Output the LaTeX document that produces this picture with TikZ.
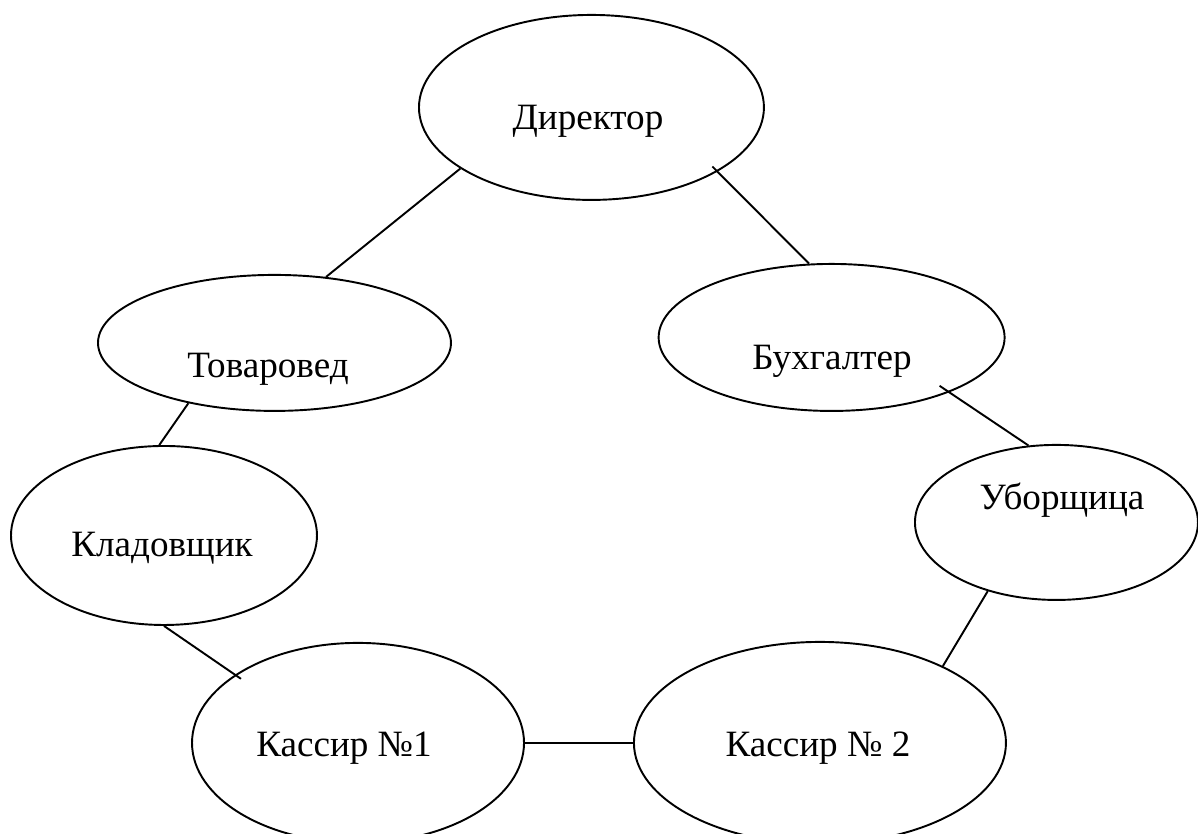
\documentclass[tikz,border=0pt]{standalone}
\usepackage{fontspec}
\setmainfont{Liberation Serif}
\usetikzlibrary{positioning, calc, shapes.geometric}

\begin{document}
\begin{tikzpicture}[
            staff/.style={ellipse, draw, line width=0.75pt, inner sep=0pt},
            role/.style={anchor=base, font=\fontsize{14.5}{17}\selectfont},
            link/.style={line width=0.75pt}
        ]
            \useasboundingbox (0,0) rectangle (16.437,11.442);

            % --- Node Placement ---
            \node[staff, minimum width=4.733cm, minimum height=2.538cm] (dir) at (8.115,9.968) {};
            \node[staff, minimum width=4.843cm, minimum height=1.866cm] (tov) at (3.766,6.737) {};
            \node[staff, minimum width=4.747cm, minimum height=2.017cm] (bux) at (11.410,6.812) {};
            \node[staff, minimum width=4.198cm, minimum height=2.456cm] (klad) at (2.250,4.095) {};
            \node[staff, minimum width=3.883cm, minimum height=2.127cm] (ubor) at (14.495,4.274) {};
            \node[staff, minimum width=4.555cm, minimum height=2.744cm] (kas1) at (4.912,1.249) {};
            \node[staff, minimum width=5.104cm, minimum height=2.771cm] (kas2) at (11.250,1.249) {};

            % --- Labels ---
            \node[role] (dirtext) at (8.067,9.659) {Директор};
            \node[role] (tovtext) at (3.677,6.256) {Товаровед};
            \node[role] (buxtext) at (11.415,6.366) {Бухгалтер};
            \node[role] (kladtext) at (2.223,3.800) {Кладовщик};
            \node[role] (subortext) at (14.571,4.445) {Уборщица};
            \node[role] (kas1text) at (4.720,1.056) {Кассир №1};
            \node[role] (kas2text) at (11.223,1.056) {Кассир № 2};

            % --- Links ---
            \draw[link] (dir.205) -- (tov.52);
            \draw[link, shorten <=-0.1cm] (dir.333) -- (bux.107.6);
            \draw[link] (tov.215.8) -- (klad.93.7);
            \draw[link, shorten <=-0.16cm] (bux.335.7) -- (ubor.110.8);
            \draw[link, shorten >=-0.1cm] (klad.270) -- (kas1.151);
            \draw[link] (ubor.225) -- (kas2.32.4);
            \draw[link] (kas1.east) -- (kas2.west);
        \end{tikzpicture}
\end{document}
